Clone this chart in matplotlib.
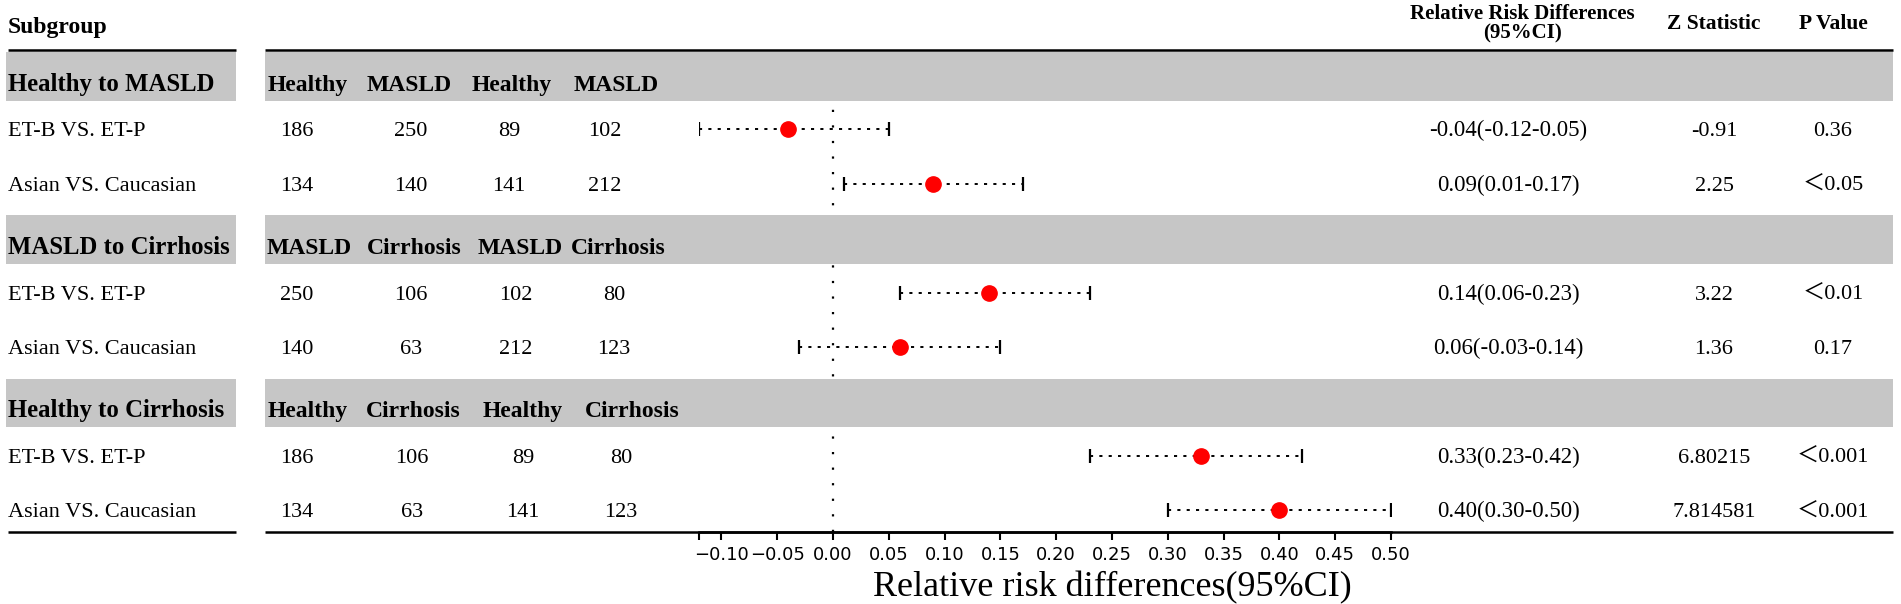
import matplotlib
matplotlib.use('Agg')
import matplotlib.pyplot as plt
from matplotlib.patches import Rectangle
import numpy as np

# 세리프 폰트 + 전각 기호(＜)용 CJK 폰트
plt.rcParams['font.family'] = ['Liberation Serif', 'Noto Sans CJK SC']

# ---- 데이터 ----
groups = ['Healthy to MASLD', 'MASLD to Cirrhosis', 'Healthy to Cirrhosis']
group_cols = [['Healthy', 'MASLD', 'Healthy', 'MASLD'],
              ['MASLD', 'Cirrhosis', 'MASLD', 'Cirrhosis'],
              ['Healthy', 'Cirrhosis', 'Healthy', 'Cirrhosis']]
subgroups = ['ET-B VS. ET-P', 'Asian VS. Caucasian',
             'ET-B VS. ET-P', 'Asian VS. Caucasian',
             'ET-B VS. ET-P', 'Asian VS. Caucasian']
counts = [[186, 250, 89, 102],
          [134, 140, 141, 212],
          [250, 106, 102, 80],
          [140, 63, 212, 123],
          [186, 106, 89, 80],
          [134, 63, 141, 123]]
est = np.array([-0.04, 0.09, 0.14, 0.06, 0.33, 0.40])
lo = np.array([-0.12, 0.01, 0.06, -0.03, 0.23, 0.30])
hi = np.array([0.05, 0.17, 0.23, 0.15, 0.42, 0.50])
rr_text = ['-0.04(-0.12-0.05)', '0.09(0.01-0.17)', '0.14(0.06-0.23)',
           '0.06(-0.03-0.14)', '0.33(0.23-0.42)', '0.40(0.30-0.50)']
z_text = ['-0.91', '2.25', '3.22', '1.36', '6.80215', '7.814581']
p_text = ['0.36', '＜0.05', '＜0.01', '0.17', '＜0.001', '＜0.001']
ticks = [-0.10, -0.05, 0.00, 0.05, 0.10, 0.15, 0.20, 0.25, 0.30, 0.35, 0.40, 0.45, 0.50]
xmin, xmax = -0.12, 0.50

# ---- 레이아웃 (픽셀) ----
W, H = 1901, 604
top_px, bot_px = 50, 532
row0_px, pitch = 75, 54.4
ax_left_px, ax_right_px = 699, 1391

def row_of(py):
    return (py - row0_px) / pitch

header_x = [[268, 367, 472, 574], [267, 367, 478, 571], [268, 366, 483, 585]]
num_x = [[297, 411, 509, 605], [297, 411, 516, 614], [297, 412, 523, 621]]
rr_x, z_x, p_x = 1508, 1714, 1833
band_color = '#c6c6c6'

fig = plt.figure(figsize=(W / 100, H / 100), dpi=100)

# 배경/표 축
bg = fig.add_axes([0, 0, 1, 1], zorder=2)
bg.set_xlim(0, W)
bg.set_ylim(row_of(H), row_of(0))
bg.axis('off')
bg.patch.set_visible(False)

# 포레스트 축
ax = fig.add_axes([ax_left_px / W, 1 - bot_px / H,
                   (ax_right_px - ax_left_px) / W, (bot_px - top_px) / H], zorder=1)
ax.patch.set_visible(False)
ax.set_xlim(xmin, xmax)
ax.set_ylim(row_of(bot_px), row_of(top_px))

# 헤더
bg.text(8, row_of(27), 'Subgroup', fontsize=17, fontweight='bold', va='center', ha='left')
bg.text(rr_x + 14, row_of(24), 'Relative Risk Differences\n(95%CI)', fontsize=15,
        fontweight='bold', va='center', ha='center', linespacing=0.95)
bg.text(z_x, row_of(24), 'Z Statistic', fontsize=15.5, fontweight='bold', va='center', ha='center')
bg.text(p_x, row_of(24), 'P Value', fontsize=15.5, fontweight='bold', va='center', ha='center')

# 위/아래 선
for py in [top_px, bot_px]:
    bg.hlines(row_of(py), 8, 236, color='black', lw=1.8)
    bg.hlines(row_of(py), 265, 1893, color='black', lw=1.8)

# 그룹 밴드 + 행
rows = []
for g in range(3):
    r = g * 3
    for x0, x1 in [(6, 236), (265, 1893)]:
        bg.add_patch(Rectangle((x0, r - 0.42), x1 - x0, 0.89, facecolor=band_color,
                               edgecolor='none', zorder=1))
    bg.text(8, r + 0.29, groups[g], fontsize=17.8, fontweight='bold', va='baseline', zorder=3)
    for j in range(4):
        bg.text(header_x[g][j], r + 0.29, group_cols[g][j], fontsize=17,
                fontweight='bold', va='baseline', zorder=3)
    for k in range(2):
        i = g * 2 + k
        rr = r + 1 + k
        rows.append(rr)
        bg.text(8, rr + 0.13, subgroups[i], fontsize=16, va='baseline')
        for j in range(4):
            bg.text(num_x[g][j], rr + 0.13, str(counts[i][j]), fontsize=16,
                    va='baseline', ha='center')
        bg.text(rr_x, rr + 0.13, rr_text[i], fontsize=16.5, va='baseline', ha='center')
        bg.text(z_x, rr + 0.13, z_text[i], fontsize=16, va='baseline', ha='center')
        bg.text(p_x, rr + 0.13, p_text[i], fontsize=16, va='baseline', ha='center')

rows = np.array(rows)

# 기준선 (0)
ax.axvline(0, color='black', lw=1.6, linestyle=(0, (1, 6)), zorder=1)

# 신뢰구간 + 점
eb = ax.errorbar(est, rows, xerr=[est - lo, hi - est], fmt='o', color='red',
                 markersize=11, ecolor='black', elinewidth=1.4, capsize=5,
                 capthick=1.6, zorder=3)
eb[2][0].set_linestyle((0, (1.6, 3.2)))

# x축
for s in ['top', 'right', 'left']:
    ax.spines[s].set_visible(False)
ax.spines['bottom'].set_linewidth(1.8)
ax.set_yticks([])
ax.set_xticks(ticks)
ax.set_xticklabels([('%.2f' % t).replace('-', '\u2212') for t in ticks],
                   fontsize=13, family='DejaVu Sans')
ax.set_xticks([xmin], minor=True)
ax.tick_params(axis='x', which='both', direction='out', length=6, width=1.5, pad=4)
ax.set_xlabel('Relative risk differences(95%CI)', fontsize=26)
ax.xaxis.set_label_coords((0.25 - xmin) / (xmax - xmin), (bot_px - 588) / (bot_px - top_px))
ax.xaxis.label.set_va('center')

fig.savefig('out.png', dpi=100)
